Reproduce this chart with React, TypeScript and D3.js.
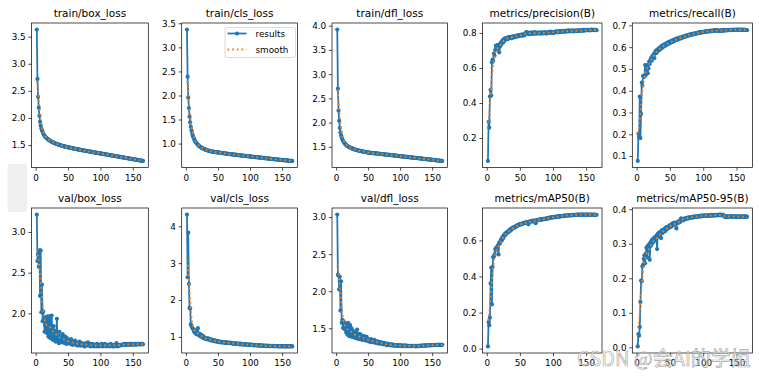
import React from "react";
import * as d3 from "d3";

// ---------- data (one value per epoch) ----------
const trainBoxLoss = [
  3.64,2.73,2.40,2.20,2.05,1.94,1.87,1.82,1.78,1.75,
  1.72,1.70,1.68,1.665,1.65,1.64,1.63,1.62,1.61,1.60,
  1.592,1.585,1.578,1.571,1.565,1.559,1.553,1.548,1.543,1.538,
  1.533,1.529,1.524,1.520,1.516,1.512,1.508,1.504,1.500,1.497,
  1.493,1.490,1.487,1.484,1.481,1.478,1.475,1.472,1.469,1.466,
  1.463,1.461,1.458,1.456,1.453,1.451,1.448,1.446,1.443,1.441,
  1.439,1.436,1.434,1.432,1.429,1.427,1.425,1.423,1.420,1.418,
  1.416,1.414,1.411,1.409,1.407,1.405,1.403,1.400,1.398,1.396,
  1.394,1.392,1.390,1.387,1.385,1.383,1.381,1.379,1.377,1.374,
  1.372,1.370,1.368,1.366,1.364,1.362,1.360,1.357,1.355,1.353,
  1.351,1.349,1.347,1.345,1.343,1.341,1.339,1.336,1.334,1.332,
  1.330,1.328,1.326,1.324,1.322,1.320,1.318,1.315,1.313,1.311,
  1.309,1.307,1.305,1.303,1.301,1.299,1.297,1.294,1.292,1.290,
  1.288,1.286,1.284,1.282,1.280,1.278,1.276,1.273,1.271,1.269,
  1.267,1.265,1.263,1.261,1.259,1.257,1.255,1.252,1.250,1.248,
  1.246,1.244,1.242,1.240,1.238,1.236,1.234,1.231,1.229,1.227,
  1.225,1.223,1.221,1.219,1.217,
];

const trainClsLoss = [
  3.38,2.40,1.97,1.75,1.57,1.45,1.36,1.29,1.23,1.18,
  1.14,1.11,1.08,1.055,1.035,1.015,1.00,0.985,0.972,0.960,
  0.950,0.940,0.931,0.923,0.915,0.908,0.901,0.895,0.889,0.884,
  0.879,0.874,0.870,0.866,0.862,0.858,0.854,0.851,0.848,0.845,
  0.843,0.841,0.839,0.837,0.835,0.833,0.831,0.829,0.827,0.825,
  0.823,0.821,0.819,0.817,0.815,0.813,0.812,0.810,0.808,0.806,
  0.804,0.802,0.801,0.799,0.797,0.795,0.794,0.792,0.790,0.789,
  0.787,0.785,0.784,0.782,0.780,0.779,0.777,0.776,0.774,0.772,
  0.771,0.769,0.768,0.766,0.765,0.763,0.761,0.760,0.758,0.757,
  0.755,0.754,0.752,0.751,0.749,0.748,0.746,0.745,0.743,0.742,
  0.740,0.739,0.737,0.736,0.734,0.733,0.731,0.730,0.728,0.727,
  0.725,0.724,0.722,0.721,0.719,0.718,0.716,0.715,0.713,0.712,
  0.710,0.709,0.707,0.706,0.704,0.703,0.701,0.700,0.698,0.697,
  0.695,0.694,0.692,0.691,0.689,0.688,0.686,0.685,0.683,0.682,
  0.680,0.679,0.678,0.676,0.675,0.673,0.672,0.670,0.669,0.668,
  0.666,0.665,0.664,0.662,0.661,0.660,0.659,0.657,0.656,0.655,
  0.654,0.653,0.652,0.651,0.650,
];

const trainDflLoss = [
  3.93,2.71,2.26,2.05,1.90,1.81,1.75,1.70,1.665,1.635,
  1.612,1.592,1.575,1.560,1.547,1.536,1.526,1.517,1.509,1.501,
  1.494,1.488,1.482,1.476,1.471,1.466,1.461,1.457,1.453,1.449,
  1.445,1.441,1.437,1.434,1.431,1.428,1.425,1.422,1.419,1.416,
  1.413,1.411,1.408,1.406,1.403,1.401,1.398,1.396,1.394,1.392,
  1.390,1.388,1.387,1.385,1.384,1.382,1.381,1.379,1.378,1.376,
  1.375,1.373,1.372,1.370,1.369,1.367,1.366,1.364,1.363,1.361,
  1.360,1.358,1.357,1.355,1.354,1.352,1.351,1.349,1.348,1.346,
  1.345,1.343,1.342,1.340,1.339,1.337,1.336,1.334,1.333,1.331,
  1.330,1.328,1.327,1.325,1.324,1.322,1.321,1.319,1.318,1.316,
  1.315,1.313,1.312,1.310,1.309,1.307,1.306,1.304,1.303,1.301,
  1.300,1.298,1.297,1.295,1.294,1.292,1.291,1.289,1.288,1.286,
  1.285,1.283,1.282,1.280,1.279,1.277,1.276,1.274,1.273,1.271,
  1.270,1.268,1.267,1.265,1.264,1.262,1.261,1.259,1.258,1.256,
  1.255,1.253,1.252,1.250,1.249,1.247,1.246,1.244,1.243,1.241,
  1.240,1.238,1.237,1.235,1.234,1.232,1.231,1.229,1.228,1.226,
  1.225,1.223,1.222,1.220,1.219,
];

const precision = [
  0.072,0.295,0.262,0.440,0.478,0.446,0.635,0.650,0.642,0.685,
  0.672,0.705,0.730,0.718,0.728,0.735,0.712,0.692,0.724,0.745,
  0.735,0.752,0.760,0.748,0.768,0.758,0.772,0.765,0.774,0.770,
  0.778,0.769,0.776,0.781,0.775,0.779,0.772,0.783,0.780,0.777,
  0.784,0.779,0.786,0.781,0.788,0.783,0.790,0.785,0.787,0.792,
  0.788,0.793,0.786,0.795,0.791,0.789,0.797,0.803,0.808,0.800,
  0.806,0.797,0.802,0.795,0.803,0.799,0.806,0.800,0.797,0.804,
  0.800,0.807,0.802,0.798,0.805,0.801,0.803,0.799,0.806,0.802,
  0.799,0.804,0.801,0.806,0.800,0.803,0.807,0.802,0.799,0.805,
  0.801,0.806,0.809,0.803,0.807,0.811,0.804,0.808,0.802,0.806,
  0.809,0.805,0.811,0.807,0.812,0.808,0.806,0.813,0.809,0.811,
  0.810,0.814,0.808,0.812,0.815,0.811,0.809,0.814,0.812,0.816,
  0.813,0.811,0.817,0.814,0.812,0.815,0.813,0.817,0.814,0.812,
  0.816,0.813,0.815,0.818,0.814,0.816,0.813,0.817,0.815,0.818,
  0.816,0.819,0.815,0.817,0.820,0.816,0.818,0.821,0.817,0.819,
  0.820,0.818,0.821,0.819,0.817,0.820,0.822,0.819,0.821,0.820,
  0.818,0.821,0.819,0.820,0.818,
];

const recall = [
  0.080,0.205,0.190,0.375,0.185,0.296,0.440,0.425,0.470,0.465,
  0.468,0.520,0.475,0.515,0.520,0.482,0.505,0.535,0.525,0.545,
  0.552,0.540,0.562,0.558,0.570,0.552,0.578,0.585,0.575,0.590,
  0.583,0.595,0.598,0.590,0.603,0.597,0.608,0.600,0.612,0.605,
  0.615,0.609,0.618,0.612,0.622,0.616,0.625,0.619,0.628,0.622,
  0.630,0.625,0.633,0.628,0.636,0.631,0.638,0.634,0.641,0.636,
  0.643,0.639,0.645,0.641,0.647,0.643,0.649,0.646,0.651,0.648,
  0.653,0.650,0.655,0.652,0.657,0.654,0.659,0.656,0.660,0.658,
  0.662,0.659,0.663,0.661,0.665,0.662,0.666,0.664,0.667,0.665,
  0.669,0.666,0.670,0.668,0.671,0.669,0.672,0.670,0.673,0.671,
  0.674,0.672,0.675,0.673,0.676,0.674,0.676,0.675,0.677,0.675,
  0.678,0.676,0.678,0.677,0.679,0.677,0.680,0.678,0.680,0.679,
  0.678,0.676,0.678,0.677,0.679,0.677,0.679,0.678,0.680,0.678,
  0.680,0.679,0.681,0.679,0.681,0.680,0.681,0.680,0.682,0.680,
  0.682,0.681,0.682,0.681,0.683,0.681,0.682,0.681,0.683,0.682,
  0.683,0.681,0.682,0.683,0.681,0.682,0.683,0.682,0.681,0.683,
  0.682,0.681,0.682,0.681,0.680,
];

const valBoxLoss = [
  3.22,2.65,2.73,2.58,2.78,2.22,2.78,2.02,2.36,1.91,
  2.03,1.92,1.78,1.86,1.96,1.82,1.76,1.97,1.72,1.88,
  1.97,1.70,1.83,1.98,1.74,1.68,1.85,1.71,1.79,1.66,
  1.73,1.94,1.67,1.70,1.64,1.78,1.68,1.72,1.65,1.70,
  1.75,1.66,1.69,1.64,1.72,1.67,1.63,1.70,1.65,1.68,
  1.64,1.66,1.63,1.69,1.65,1.62,1.66,1.64,1.63,1.67,
  1.62,1.65,1.63,1.61,1.64,1.62,1.66,1.61,1.63,1.62,
  1.64,1.61,1.62,1.63,1.60,1.62,1.64,1.61,1.62,1.65,
  1.62,1.61,1.63,1.60,1.62,1.61,1.63,1.61,1.60,1.62,
  1.61,1.62,1.60,1.63,1.61,1.62,1.60,1.61,1.62,1.61,
  1.63,1.61,1.60,1.62,1.61,1.63,1.61,1.60,1.62,1.61,
  1.61,1.62,1.60,1.61,1.63,1.61,1.62,1.60,1.61,1.62,
  1.60,1.61,1.62,1.64,1.61,1.60,1.61,1.62,1.61,1.615,
  1.62,1.615,1.62,1.625,1.62,1.63,1.62,1.625,1.62,1.63,
  1.625,1.62,1.63,1.625,1.62,1.63,1.625,1.63,1.62,1.625,
  1.63,1.625,1.63,1.62,1.625,1.63,1.625,1.63,1.625,1.63,
  1.625,1.63,1.625,1.63,1.625,
];

const valClsLoss = [
  4.33,2.63,3.84,2.45,1.80,1.78,1.35,1.31,1.28,1.24,
  1.22,1.15,1.19,1.12,1.10,1.14,1.08,1.25,1.07,1.10,
  1.04,1.08,1.02,1.06,1.00,0.99,1.03,0.97,0.98,0.96,
  0.97,0.95,0.98,0.94,0.96,0.93,0.95,0.92,0.94,0.91,
  0.93,0.92,0.90,0.92,0.89,0.91,0.90,0.88,0.90,0.87,
  0.89,0.88,0.87,0.88,0.86,0.88,0.87,0.86,0.87,0.86,
  0.85,0.87,0.86,0.85,0.86,0.84,0.85,0.86,0.84,0.85,
  0.84,0.83,0.84,0.83,0.84,0.82,0.83,0.84,0.82,0.83,
  0.82,0.83,0.81,0.82,0.83,0.81,0.82,0.81,0.82,0.80,
  0.81,0.82,0.80,0.81,0.80,0.81,0.80,0.79,0.80,0.81,
  0.79,0.80,0.79,0.80,0.79,0.78,0.79,0.80,0.78,0.79,
  0.78,0.79,0.78,0.77,0.78,0.79,0.77,0.78,0.77,0.78,
  0.77,0.78,0.77,0.76,0.77,0.78,0.76,0.77,0.76,0.77,
  0.76,0.77,0.76,0.77,0.76,0.765,0.76,0.77,0.76,0.765,
  0.76,0.765,0.755,0.76,0.765,0.755,0.76,0.765,0.755,0.76,
  0.755,0.76,0.755,0.76,0.755,0.76,0.755,0.76,0.755,0.76,
  0.755,0.76,0.755,0.76,0.755,
];

const valDflLoss = [
  3.04,2.23,2.22,2.03,2.20,1.745,2.14,1.58,1.62,1.51,
  1.60,1.55,1.49,1.57,1.45,1.53,1.42,1.58,1.47,1.40,
  1.55,1.43,1.51,1.39,1.48,1.42,1.46,1.38,1.44,1.40,
  1.37,1.49,1.41,1.38,1.36,1.43,1.39,1.37,1.41,1.35,
  1.38,1.36,1.40,1.35,1.37,1.34,1.39,1.35,1.36,1.33,
  1.35,1.34,1.32,1.36,1.33,1.34,1.32,1.33,1.35,1.31,
  1.33,1.32,1.31,1.33,1.30,1.32,1.31,1.30,1.32,1.30,
  1.31,1.30,1.29,1.31,1.30,1.29,1.30,1.28,1.30,1.29,
  1.28,1.29,1.28,1.29,1.275,1.28,1.29,1.275,1.28,1.27,
  1.28,1.275,1.27,1.28,1.27,1.275,1.28,1.27,1.275,1.27,
  1.275,1.27,1.265,1.275,1.27,1.265,1.27,1.275,1.265,1.27,
  1.265,1.27,1.265,1.27,1.265,1.27,1.265,1.27,1.265,1.27,
  1.265,1.27,1.265,1.262,1.268,1.265,1.27,1.265,1.268,1.27,
  1.268,1.272,1.27,1.273,1.27,1.274,1.272,1.275,1.273,1.276,
  1.274,1.277,1.275,1.278,1.276,1.279,1.277,1.28,1.278,1.28,
  1.279,1.281,1.28,1.282,1.28,1.283,1.281,1.283,1.282,1.284,
  1.282,1.284,1.283,1.284,1.283,
];

const mAP50 = [
  0.015,0.150,0.133,0.175,0.365,0.452,0.248,0.455,0.510,0.515,
  0.525,0.555,0.548,0.565,0.560,0.575,0.525,0.590,0.585,0.600,
  0.610,0.602,0.622,0.615,0.632,0.628,0.640,0.635,0.648,0.645,
  0.652,0.648,0.660,0.655,0.665,0.660,0.670,0.667,0.675,0.672,
  0.678,0.675,0.682,0.680,0.686,0.684,0.690,0.688,0.693,0.691,
  0.695,0.693,0.698,0.696,0.700,0.698,0.702,0.700,0.704,0.702,
  0.705,0.692,0.707,0.705,0.709,0.707,0.710,0.708,0.712,0.710,
  0.713,0.711,0.698,0.714,0.716,0.714,0.717,0.715,0.719,0.717,
  0.720,0.718,0.721,0.719,0.722,0.721,0.723,0.722,0.725,0.723,
  0.726,0.724,0.728,0.730,0.727,0.731,0.729,0.732,0.730,0.733,
  0.731,0.734,0.732,0.735,0.733,0.736,0.734,0.737,0.735,0.738,
  0.736,0.738,0.737,0.739,0.738,0.740,0.739,0.741,0.740,0.741,
  0.741,0.742,0.741,0.743,0.742,0.743,0.742,0.744,0.743,0.744,
  0.743,0.745,0.744,0.745,0.744,0.746,0.745,0.746,0.745,0.746,
  0.745,0.746,0.745,0.746,0.746,0.745,0.746,0.745,0.746,0.745,
  0.746,0.745,0.746,0.745,0.746,0.745,0.746,0.745,0.746,0.745,
  0.745,0.746,0.745,0.744,0.745,
];

const mAP5095 = [
  0.004,0.040,0.035,0.060,0.133,0.195,0.193,0.236,0.240,0.258,
  0.268,0.245,0.272,0.290,0.262,0.295,0.282,0.300,0.255,0.305,
  0.296,0.312,0.303,0.315,0.308,0.320,0.312,0.316,0.325,0.286,
  0.330,0.322,0.334,0.327,0.336,0.318,0.340,0.333,0.342,0.336,
  0.345,0.338,0.348,0.343,0.350,0.346,0.352,0.348,0.355,0.350,
  0.357,0.352,0.360,0.355,0.362,0.358,0.363,0.360,0.346,0.362,
  0.365,0.362,0.367,0.364,0.370,0.375,0.371,0.373,0.369,0.374,
  0.372,0.375,0.373,0.376,0.374,0.377,0.375,0.378,0.376,0.378,
  0.377,0.379,0.377,0.380,0.378,0.380,0.379,0.381,0.379,0.381,
  0.380,0.382,0.380,0.382,0.381,0.383,0.381,0.383,0.382,0.383,
  0.382,0.384,0.382,0.383,0.384,0.382,0.384,0.383,0.384,0.383,
  0.385,0.383,0.384,0.385,0.383,0.384,0.385,0.384,0.385,0.384,
  0.385,0.384,0.386,0.385,0.384,0.386,0.385,0.384,0.385,0.383,
  0.381,0.379,0.380,0.381,0.380,0.381,0.380,0.381,0.380,0.381,
  0.380,0.381,0.380,0.381,0.380,0.381,0.380,0.380,0.381,0.380,
  0.380,0.381,0.380,0.380,0.381,0.380,0.380,0.381,0.380,0.380,
  0.380,0.381,0.380,0.380,0.380,
];

const panelTitles = [
  "train/box_loss", "train/cls_loss", "train/dfl_loss", "metrics/precision(B)", "metrics/recall(B)",
  "val/box_loss", "val/cls_loss", "val/dfl_loss", "metrics/mAP50(B)", "metrics/mAP50-95(B)",
];
const panelSeries = [
  trainBoxLoss, trainClsLoss, trainDflLoss, precision, recall,
  valBoxLoss, valClsLoss, valDflLoss, mAP50, mAP5095,
];
const xTicks = [0, 50, 100, 150];
const yTicks = [
  [1.5, 2.0, 2.5, 3.0, 3.5],
  [1.0, 1.5, 2.0, 2.5, 3.0, 3.5],
  [1.5, 2.0, 2.5, 3.0, 3.5, 4.0],
  [0.2, 0.4, 0.6, 0.8],
  [0.1, 0.2, 0.3, 0.4, 0.5, 0.6, 0.7],
  [2.0, 2.5, 3.0],
  [1, 2, 3, 4],
  [1.5, 2.0, 2.5, 3.0],
  [0.0, 0.2, 0.4, 0.6],
  [0.0, 0.1, 0.2, 0.3, 0.4],
];
const yTickFormats = [".1f", ".1f", ".1f", ".1f", ".1f", ".1f", "d", ".1f", ".1f", ".1f"];
const legendLabels = ["results", "smooth"];
const watermark = "CSDN @会AI的学姐";

// ---------- layout ----------
const W = 759;
const H = 378;
const colLeft = [31.5, 181.7, 332.0, 482.5, 632.3];
const colRight = [148.3, 297.5, 447.5, 602.0, 752.5];
const rowTop = [23, 208];
const rowBottom = [167.5, 353];
const BLUE = "#1f77b4";
const ORANGE = "#ff7f0e";
const FONT = "DejaVu Sans, sans-serif";

function gaussianSmooth(y: number[], sigma = 3): number[] {
  const r = Math.round(4 * sigma);
  const w: number[] = [];
  for (let k = -r; k <= r; k++) w.push(Math.exp(-0.5 * (k * k) / (sigma * sigma)));
  const s = d3.sum(w);
  const n = y.length;
  const idx = (i: number) => {
    while (i < 0 || i >= n) {
      if (i < 0) i = -i - 1;
      if (i >= n) i = 2 * n - i - 1;
    }
    return i;
  };
  return y.map((_, i) => {
    let acc = 0;
    for (let k = -r; k <= r; k++) acc += w[k + r] * y[idx(i + k)];
    return acc / s;
  });
}

function Panel({ i }: { i: number }) {
  const col = i % 5;
  const row = Math.floor(i / 5);
  const left = colLeft[col], right = colRight[col];
  const top = rowTop[row], bottom = rowBottom[row];
  const y = panelSeries[i];
  const n = y.length;
  const xs = d3.range(1, n + 1);
  const sm = gaussianSmooth(y, 3);
  const x = d3.scaleLinear().domain([1 - 0.05 * (n - 1), n + 0.05 * (n - 1)]).range([left, right]);
  const lo = Math.min(d3.min(y)!, d3.min(sm)!);
  const hi = Math.max(d3.max(y)!, d3.max(sm)!);
  const pad = (hi - lo) * 0.05;
  const ys = d3.scaleLinear().domain([lo - pad, hi + pad]).range([bottom, top]);
  const line = d3.line<number>().x((_, j) => x(xs[j])).y((v) => ys(v));
  const fmt = d3.format(yTickFormats[i]);
  const lw = 1.76;
  return (
    <g>
      <defs>
        <clipPath id={`clip${i}`}>
          <rect x={left} y={top} width={right - left} height={bottom - top} />
        </clipPath>
      </defs>
      <g clipPath={`url(#clip${i})`}>
        <path d={line(y)!} fill="none" stroke={BLUE} strokeWidth={lw} strokeLinejoin="round" />
        {y.map((v, j) => (
          <circle key={j} cx={x(xs[j])} cy={ys(v)} r={2.1} fill={BLUE} />
        ))}
        <path d={line(sm)!} fill="none" stroke={ORANGE} strokeWidth={lw} strokeDasharray="1.76,2.9" />
      </g>
      <rect x={left} y={top} width={right - left} height={bottom - top} fill="none" stroke="#000" strokeWidth={0.7} />
      {xTicks.map((t) => (
        <g key={`x${t}`}>
          <line x1={x(t)} x2={x(t)} y1={bottom} y2={bottom + 3.1} stroke="#000" strokeWidth={0.7} />
          <text x={x(t)} y={bottom + 13.2} textAnchor="middle" fontSize={8.8} fontFamily={FONT} fill="#000">{t}</text>
        </g>
      ))}
      {yTicks[i].map((t) => (
        <g key={`y${t}`}>
          <line x1={left - 3.1} x2={left} y1={ys(t)} y2={ys(t)} stroke="#000" strokeWidth={0.7} />
          <text x={left - 5.8} y={ys(t)} dy="0.33em" textAnchor="end" fontSize={8.8} fontFamily={FONT} fill="#000">{fmt(t)}</text>
        </g>
      ))}
      <text x={(left + right) / 2} y={top - 6.3} textAnchor="middle" fontSize={10.5} fontFamily={FONT} fill="#000">
        {panelTitles[i]}
      </text>
      {i === 1 && (
        <g>
          <rect x={225} y={27.5} width={70.5} height={30} rx={2} fill="#fff" fillOpacity={0.8} stroke="#cccccc" strokeWidth={0.7} />
          <line x1={227.5} x2={246.5} y1={33.5} y2={33.5} stroke={BLUE} strokeWidth={lw} />
          <circle cx={237} cy={33.5} r={2.1} fill={BLUE} />
          <line x1={227.5} x2={246.5} y1={49.5} y2={49.5} stroke={ORANGE} strokeWidth={lw} strokeDasharray="1.76,2.9" />
          <text x={255.5} y={36.6} fontSize={8.8} fontFamily={FONT} fill="#000">{legendLabels[0]}</text>
          <text x={255.5} y={52.6} fontSize={8.8} fontFamily={FONT} fill="#000">{legendLabels[1]}</text>
        </g>
      )}
    </g>
  );
}

export default function App() {
  return (
    <div style={{ position: "absolute", left: 0, top: 0 }}>
      <svg width={W} height={H} viewBox={`0 0 ${W} ${H}`} style={{ display: "block", background: "#fff" }}>
        <rect x={0} y={0} width={W} height={H} fill="#fff" />
        {panelTitles.map((_, i) => (
          <Panel key={i} i={i} />
        ))}
        <rect x={7.5} y={164} width={19.5} height={48} rx={3} fill="#efefef" />
        <text x={577} y={366} fontSize={20} fontFamily="'Noto Sans CJK SC', sans-serif" fill="#ffffff" fillOpacity={0.55} stroke="#8a8a8a" strokeWidth={0.7} strokeOpacity={0.75}>
          {watermark}
        </text>
      </svg>
    </div>
  );
}
